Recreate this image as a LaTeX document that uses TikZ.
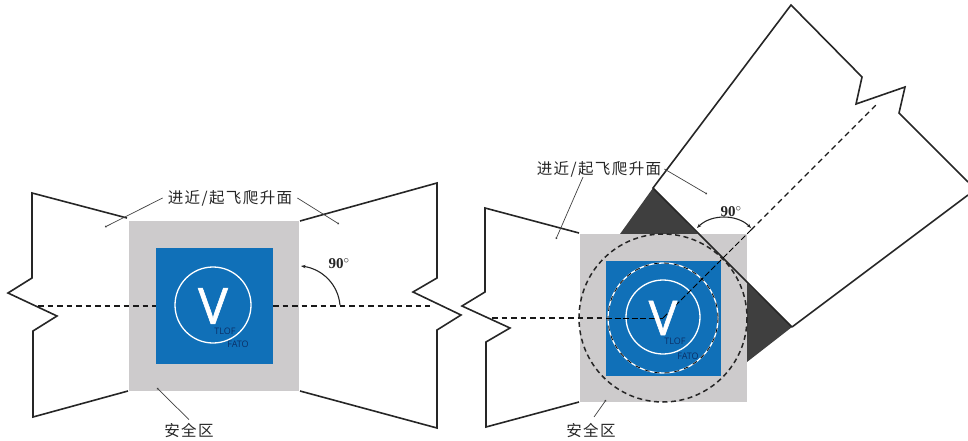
\documentclass[tikz,border=0pt]{standalone}
\usepackage{fontspec}
\usepackage{xcolor}
\usetikzlibrary{arrows.meta,positioning,calc}
\newfontfamily\cjk[LetterSpace=9]{Noto Sans CJK SC}
\newfontfamily\padfont{Open Sans}
\newfontfamily\vfont[FakeBold=1.2]{Open Sans}
\setmainfont{Liberation Serif}
\definecolor{zonegray}{HTML}{CDCBCC}
\definecolor{padblue}{HTML}{1070B8}
\definecolor{wedgedark}{HTML}{3F3F3F}
\definecolor{padtext}{HTML}{0B2F66}

\begin{document}
\begin{tikzpicture}[x=1pt, y=-1pt,
    outline/.style={line width=1.6pt, black!85, line join=miter},
    centerline/.style={line width=1.4pt, dash pattern=on 5.5pt off 4pt, black!90},
    thindash/.style={line width=0.9pt, dash pattern=on 6pt off 2.5pt, black},
    leader/.style={line width=0.7pt, black!75, -{Circle[length=1.8pt]}},
    angle/.style={line width=1.1pt, black!85, -{Stealth[length=4.5pt]}},
    cnlabel/.style={font=\cjk\fontsize{15.5}{15.5}\selectfont, text=black!85, inner sep=0pt},
    padlabel/.style={font=\padfont\fontsize{9}{9}\selectfont, text=padtext, inner sep=0pt},
    vlabel/.style={font=\vfont\fontsize{50}{50}\selectfont, text=white, inner sep=0pt},
    deglabel/.style={font=\bfseries\fontsize{15}{15}\selectfont, text=black!85, inner sep=0pt}]
        \useasboundingbox (0,0) rectangle (968,441);

        % Left pad: safety area and FATO square
        \fill[zonegray] (129,221) rectangle (299,391);
        \fill[padblue] (156,248) rectangle (273,364);
        \draw[white, line width=1.3pt] (213,305) circle (38);

        % Left pad: approach surfaces
        \draw[outline] (127,218) -- (32,193) -- (32,278) -- (8,293) -- (57,316) -- (33,331) -- (33,417) -- (128,391);
        \draw[outline] (300,221) -- (437,183) -- (437,278) -- (413,292) -- (461,315) -- (437,330) -- (437,428) -- (300,391);

        % Left pad: center line
        \coordinate (la) at (38,306);
        \coordinate (lb) at (156,306);
        \coordinate (lc) at (273,306);
        \coordinate (ld) at (430,306);
        \draw[centerline] (la) -- (lb);
        \draw[centerline] (lc) -- (ld);

        % Left pad: 90 degree arc
        \coordinate (lp) at (340,305);
        \coordinate (lq) at (301,266);
        \draw[angle] (lp) .. controls (338,284) and (322,269) .. (lq);
        \node[deglabel] (ldeg) at (339,264) {90$^{\circ}$};

        % Left pad: labels
        \node[vlabel] (lv) at (213,306) {V};
        \node[padlabel] (ltlof) at (225,331) {TLOF};
        \node[padlabel] (lfato) at (238,344) {FATO};
        \node[cnlabel] (lsurf) at (230,198) {进近/起飞爬升面};
        \node[cnlabel] (lsafe) at (189,430) {安全区};
        \coordinate (ls1) at (105,227);
        \coordinate (ls2) at (339,224);
        \coordinate (ls3) at (157,388);
        \draw[leader] (lsurf.west) ++(-5,0) -- (ls1);
        \draw[leader] (lsurf.east) ++(5,0) -- (ls2);
        \draw[leader] (lsafe.north) ++(0,-3) -- (ls3);

        % Right pad: dark wedges
        \fill[wedgedark] (620,234) -- (653,188) -- (698,234) -- cycle;
        \fill[wedgedark] (747,283) -- (792,327) -- (747,362) -- cycle;

        % Right pad: safety area and FATO square
        \fill[zonegray] (580,234) rectangle (747,402);
        \fill[padblue] (606,261) rectangle (721,376);
        \draw[white, line width=1.3pt] (663,317) circle (37);
        \draw[white, line width=1.3pt] (663,318) circle (55);
        \draw[black, line width=0.8pt, dash pattern=on 5pt off 5pt] (663,318) circle (55);
        \draw[black!85, line width=1.5pt, dash pattern=on 5pt off 3.5pt] (663,318) circle (84);

        % Right pad: approach surfaces
        \draw[outline] (579,233) -- (485,208) -- (485,292) -- (462,306) -- (510,328) -- (486,342) -- (486,427) -- (579,402);
        \draw[outline] (792,327) -- (653,188) -- (791,5) -- (862,77) -- (856,104) -- (905,87) -- (899,113) -- (968,182);
        \draw[outline] (792,327) -- (968,195);

        % Right pad: center lines
        \coordinate (rc) at (663,318);
        \coordinate (ra) at (492,318);
        \coordinate (re) at (606,318);
        \coordinate (rb) at (751,230);
        \coordinate (rd) at (877,104);
        \draw[centerline] (ra) -- (re);
        \draw[thindash] (re) -- (rc);
        \draw[thindash] (rc) -- (rb);
        \draw[centerline, line width=1.2pt] (rb) -- (rd);

        % Right pad: 90 degree arc
        \coordinate (rp) at (697,228);
        \coordinate (rq) at (751,228);
        \draw[angle, {Stealth[length=4.5pt]}-{Stealth[length=4.5pt]}] (rp) .. controls (711,214) and (737,214) .. (rq);
        \node[deglabel] (rdeg) at (731,212) {90$^{\circ}$};

        % Right pad: labels
        \node[vlabel, font=\vfont\fontsize{48}{48}\selectfont] (rv) at (663,318) {V};
        \node[padlabel] (rtlof) at (675,341) {TLOF};
        \node[padlabel] (rfato) at (688,356) {FATO};
        \node[cnlabel] (rsurf) at (599,169) {进近/起飞爬升面};
        \node[cnlabel] (rsafe) at (591,430) {安全区};
        \coordinate (rs1) at (556,239);
        \coordinate (rs2) at (707,194);
        \coordinate (rs3) at (606,400);
        \draw[leader] (583,177) -- (rs1);
        \draw[leader] (rsurf.east) ++(3,0) -- (rs2);
        \draw[leader] (594,417) -- (rs3);
    \end{tikzpicture}
\end{document}
